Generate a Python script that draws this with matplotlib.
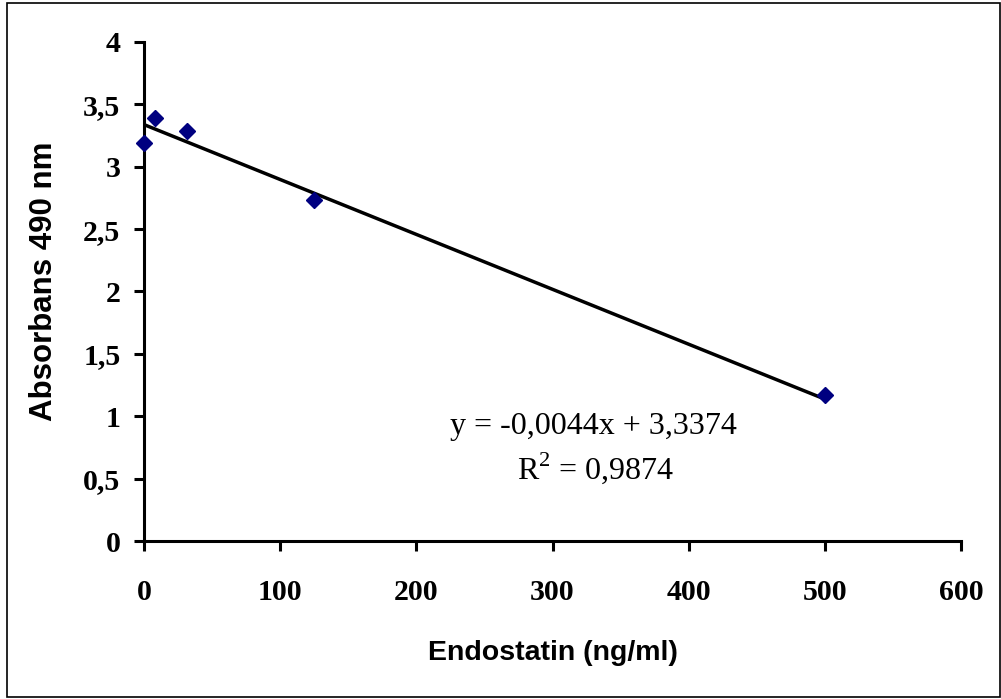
import numpy as np
import matplotlib
matplotlib.use('Agg')
import matplotlib.pyplot as plt
from matplotlib.patches import Rectangle

# Endostatin concentration vs absorbance
endostatin = [0, 7.8, 31.25, 125, 500]
absorbans = [3.19, 3.39, 3.29, 2.73, 1.17]

# Trendline shown in the chart
slope = -0.0044
intercept = 3.3374
r2 = 0.9874
trend_x = [0, 500]

x_ticks = [0, 100, 200, 300, 400, 500, 600]
y_ticks = [0, 0.5, 1, 1.5, 2, 2.5, 3, 3.5, 4]
y_ticklabels = ['0', '0,5', '1', '1,5', '2', '2,5', '3', '3,5', '4']

plt.rcParams['mathtext.fontset'] = 'custom'
plt.rcParams['mathtext.rm'] = 'Liberation Serif'

fig = plt.figure(figsize=(10.01, 6.99), dpi=100)
ax = fig.add_axes([0.1439, 0.226, 0.8161, 0.714])

# Trendline
trend_y = [slope * x + intercept for x in trend_x]
ax.plot(trend_x, trend_y, color='black', linewidth=2.5, zorder=2)

# Data points
ax.plot(endostatin, absorbans, linestyle='none', marker='D', markersize=8,
        color='#000080', zorder=3, clip_on=False)

ax.set_xlim(0, 600)
ax.set_ylim(0, 4)
ax.set_xticks(x_ticks)
ax.set_xticklabels([str(t) for t in x_ticks])
ax.set_yticks(y_ticks)
ax.set_yticklabels(y_ticklabels)

for side in ['top', 'right']:
    ax.spines[side].set_visible(False)
for side in ['left', 'bottom']:
    ax.spines[side].set_linewidth(2.2)

ax.tick_params(direction='out', length=7, width=2.2)
ax.tick_params(axis='x', pad=20)
ax.tick_params(axis='y', pad=10)
for lbl in ax.get_xticklabels() + ax.get_yticklabels():
    lbl.set_fontfamily('Liberation Serif')
    lbl.set_fontweight('bold')
    lbl.set_fontsize(21.5)

ax.set_xlabel('Endostatin (ng/ml)', fontfamily='Liberation Sans', fontweight='bold',
              fontsize=20.5, va='center')
ax.set_ylabel('Absorbans 490 nm', fontfamily='Liberation Sans', fontweight='bold',
              fontsize=22.5, va='center')
ax.xaxis.set_label_coords(0.5, -0.2244)
ax.yaxis.set_label_coords(-0.122, 0.52)

# Trendline equation
fig.text(593 / 1001, 1 - 427 / 699, 'y = -0,0044x + 3,3374', ha='center', va='center',
         fontfamily='Liberation Serif', fontsize=23)
fig.text(596 / 1001, 1 - 468 / 699, 'R$^{2}$ = 0,9874', ha='center', va='center',
         fontfamily='Liberation Serif', fontsize=23)

# Border around the chart area
fig.patches.append(Rectangle((7 / 1001, 2 / 699), 993 / 1001, 694 / 699,
                             transform=fig.transFigure, fill=False,
                             edgecolor='black', linewidth=1.2))

fig.savefig('out.png', dpi=100)
